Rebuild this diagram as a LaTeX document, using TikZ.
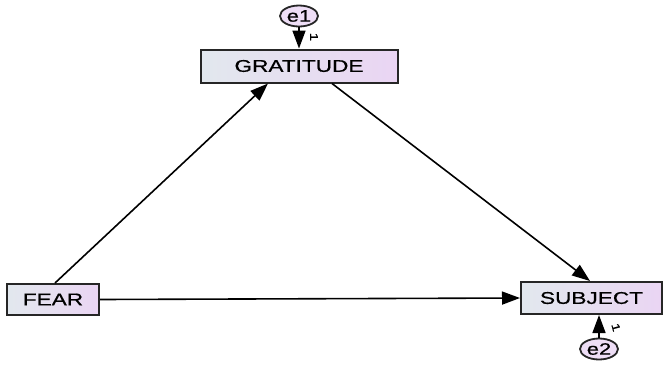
\documentclass[tikz,border=0pt]{standalone}
\usepackage{fontspec}
\setmainfont[FakeStretch=1.33, FakeBold=0.6]{Liberation Sans}
\usetikzlibrary{arrows.meta, positioning, shapes.geometric}

\definecolor{boxleft}{RGB}{226,232,238}
\definecolor{boxright}{RGB}{234,213,243}
\definecolor{errfill}{RGB}{238,222,246}

\begin{document}
\begin{tikzpicture}[
            x=1pt, y=-1pt,
            var/.style={rectangle, draw=black!85, line width=2pt,
            left color=boxleft, right color=boxright,
            inner sep=0pt, font=\fontsize{17}{18}\selectfont},
            err/.style={ellipse, draw=black!85, line width=1.8pt, fill=errfill,
            inner sep=0pt, minimum width=38pt, minimum height=21pt,
            font=\fontsize{16.5}{18}\selectfont},
            path/.style={draw, line width=1.6pt, -{Triangle[length=18pt, width=13pt]}},
            one/.style={font=\fontsize{11}{12}\selectfont, inner sep=0pt, anchor=center}
        ]
\useasboundingbox (0,0) rectangle (672,365);

% ----- Variablen -----
            \node[var, minimum width=197pt, minimum height=33pt] (grat) at (299,66) {GRATITUDE};
            \node[var, minimum width=92pt, minimum height=31pt] (fear) at (53,299.5) {FEAR};
            \node[var, minimum width=141pt, minimum height=32pt] (subj) at (591.5,298) {SUBJECT};

% ----- Fehlerterme -----
            \node[err] (e1) at (299,16) {e1};
            \node[err] (e2) at (599,349) {e2};

% ----- Pfade -----
            \draw[path] ([xshift=2pt]fear.north) -- ([xshift=-31pt]grat.south);
            \draw[path] ([xshift=33pt]grat.south) -- ([xshift=-1.5pt]subj.north);
            \draw[path] (fear.east) -- (subj.west);

% Fehlerpfade
            \draw[path] (e1) -- node[one, pos=0.45, xshift=15pt, rotate=-90] {1} (e1 |- grat.north);
            \draw[path] (e2) -- node[one, pos=0.45, xshift=17pt, rotate=-75] {1} (e2 |- subj.south);

        \end{tikzpicture}
\end{document}
